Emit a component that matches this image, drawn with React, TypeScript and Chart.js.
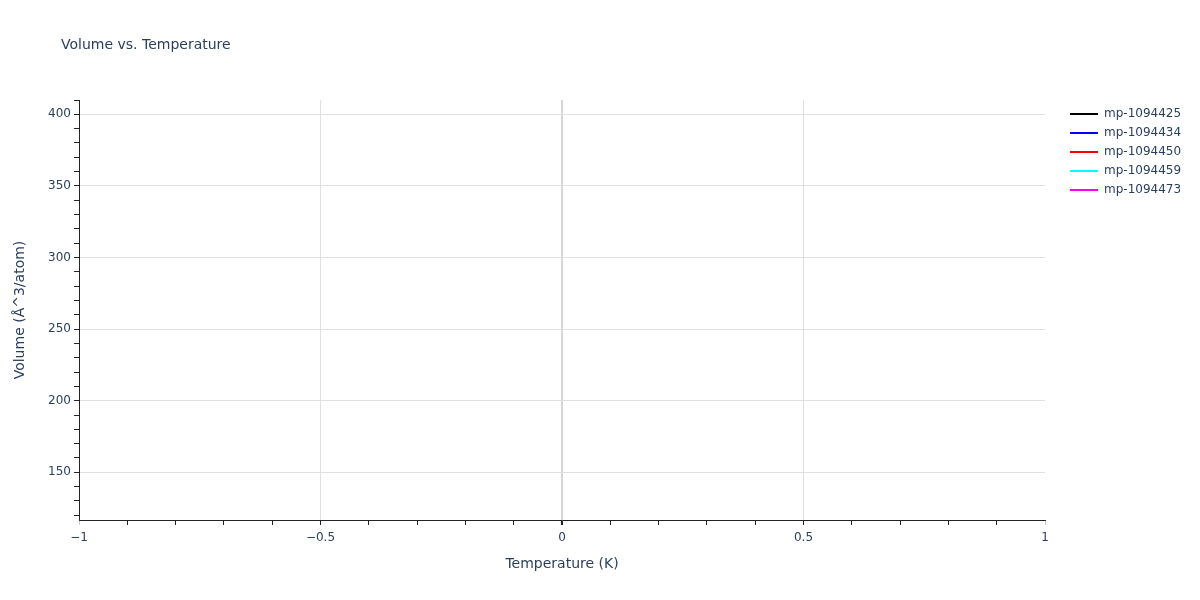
import { useEffect, useRef } from "react";
import { Chart, registerables, type Plugin } from "chart.js";

Chart.register(...registerables);

const FONT = "DejaVu Sans";
const TEXT = "#2a3f5f";

const chartTitle = "Volume vs. Temperature";
const xTitle = "Temperature (K)";
const yTitle = "Volume (Å^3/atom)";

const seriesNames = ["mp-1094425", "mp-1094434", "mp-1094450", "mp-1094459", "mp-1094473"];
const seriesColors = ["#000000", "#0000ff", "#ff0000", "#00ffff", "#ff00ff"];
// none of the series has a point inside the plotted window
const seriesTemps: number[][] = [[], [], [], [], []];
const seriesVolumes: number[][] = [[], [], [], [], []];

const xRange = [-1, 1];
const yRange = [116.7, 410];
const xMajorTicks = [-1, -0.5, 0, 0.5, 1];
const yMajorTicks = [150, 200, 250, 300, 350, 400];

const isMajor = (list: number[], v: number) => list.some((m) => Math.abs(m - v) < 1e-9);
const fmt = (v: number) => (v < 0 ? "\u2212" : "") + String(Math.abs(v));

// title and legend drawn on the canvas, plotly-style
const overlay: Plugin = {
  id: "overlay",
  afterDraw(chart) {
    const ctx = chart.ctx;
    ctx.save();
    ctx.fillStyle = TEXT;
    ctx.textBaseline = "middle";
    ctx.textAlign = "left";
    ctx.font = `14px "${FONT}"`;
    ctx.fillText(chartTitle, 61, 45);

    ctx.font = `12px "${FONT}"`;
    chart.data.datasets.forEach((ds, i) => {
      const y = 114 + i * 19;
      ctx.strokeStyle = ds.borderColor as string;
      ctx.lineWidth = 2;
      ctx.beginPath();
      ctx.moveTo(1070, y);
      ctx.lineTo(1098, y);
      ctx.stroke();
      ctx.fillStyle = TEXT;
      ctx.fillText(ds.label ?? "", 1104, y);
    });
    ctx.restore();
  },
};

export default function App() {
  const canvasRef = useRef<HTMLCanvasElement>(null);

  useEffect(() => {
    document.body.style.margin = "0";
    if (!canvasRef.current) return;

    const datasets = seriesNames.map((name, i) => ({
      label: name,
      data: seriesTemps[i].map((t, j) => ({ x: t, y: seriesVolumes[i][j] })),
      borderColor: seriesColors[i],
      backgroundColor: seriesColors[i],
      borderWidth: 2,
      pointRadius: 0,
      showLine: true,
    }));

    const chart = new Chart(canvasRef.current, {
      type: "scatter",
      data: { datasets },
      plugins: [overlay],
      options: {
        animation: false,
        responsive: false,
        layout: { padding: { top: 100, right: 155, left: 0, bottom: 0 } },
        plugins: {
          legend: { display: false },
          title: { display: false },
          tooltip: { enabled: false },
        },
        scales: {
          x: {
            type: "linear",
            min: xRange[0],
            max: xRange[1],
            afterFit: (s) => {
              s.height = 80;
            },
            border: { display: true, color: "#222", width: 1 },
            grid: {
              color: (c) => {
                const v = c.tick?.value ?? 0;
                if (Math.abs(v) === 1) return "transparent";
                return isMajor(xMajorTicks, v) ? (v === 0 ? "#d6d6d6" : "#e0e0e0") : "transparent";
              },
              lineWidth: (c) => ((c.tick?.value ?? 1) === 0 ? 2 : 1),
              tickColor: (c) => (Math.abs(c.tick?.value ?? 0) === 1 ? "#cccccc" : "#222"),
              tickLength: 5,
              drawTicks: true,
            },
            ticks: {
              stepSize: 0.1,
              autoSkip: false,
              includeBounds: false,
              maxRotation: 0,
              padding: 6,
              color: TEXT,
              font: { family: FONT, size: 12 },
              callback: (v) => (isMajor(xMajorTicks, Number(v)) ? fmt(Number(v)) : ""),
            },
            title: {
              display: true,
              text: xTitle,
              color: TEXT,
              font: { family: FONT, size: 14 },
              padding: { top: 0, bottom: 27 },
            },
          },
          y: {
            type: "linear",
            min: yRange[0],
            max: yRange[1],
            afterFit: (s) => {
              s.width = 79;
            },
            border: { display: true, color: "#222", width: 1 },
            grid: {
              color: (c) => (isMajor(yMajorTicks, c.tick?.value ?? 0) ? "#e0e0e0" : "transparent"),
              tickColor: "#222",
              tickLength: 5,
              drawTicks: true,
            },
            ticks: {
              stepSize: 10,
              autoSkip: false,
              includeBounds: false,
              padding: 3,
              color: TEXT,
              font: { family: FONT, size: 12 },
              callback: (v) => (isMajor(yMajorTicks, Number(v)) ? String(v) : ""),
            },
            title: {
              display: true,
              text: yTitle,
              color: TEXT,
              font: { family: FONT, size: 14 },
              padding: { top: 12, bottom: 0 },
            },
          },
        },
      },
    });

    return () => chart.destroy();
  }, []);

  return (
    <div style={{ width: 1200, height: 600, background: "#fff" }}>
      <canvas ref={canvasRef} width={1200} height={600} />
    </div>
  );
}
